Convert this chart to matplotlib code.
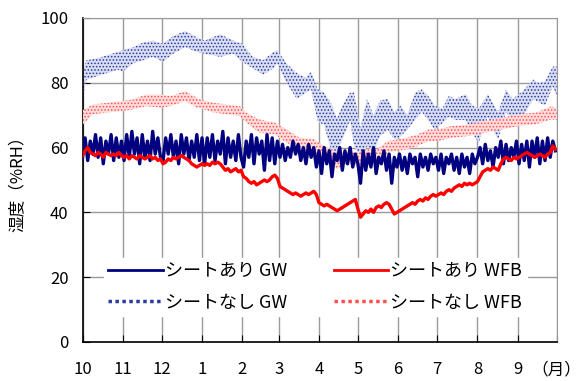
import matplotlib
matplotlib.use("Agg")
import matplotlib.pyplot as plt
from matplotlib.lines import Line2D
import numpy as np

plt.rcParams['font.family'] = ['Noto Sans CJK JP', 'DejaVu Sans']
plt.rcParams['hatch.linewidth'] = 0.7

# month boundaries (days from Oct 1)
month_days = [0, 31, 61, 92, 123, 151, 182, 212, 243, 273, 304, 335, 365]
month_labels = ['10', '11', '12', '1', '2', '3', '4', '5', '6', '7', '8', '9', '（月）']

# シートあり GW : values every 2 days (day 0 .. 364)
gw_on = [
    57, 63, 56, 62, 58, 64, 57, 63, 55, 62, 58, 64, 56, 63, 57, 62,        # Oct
    56, 64, 57, 65, 58, 63, 55, 64, 57, 62, 56, 65, 58, 63, 57,            # Nov
    56, 63, 58, 64, 57, 62, 55, 64, 58, 63, 56, 62, 57, 64, 56, 63,        # Dec
    55, 63, 57, 64, 56, 62, 58, 65, 55, 63, 57, 62, 56, 64, 57,            # Jan
    54, 62, 57, 64, 55, 63, 58, 62, 53, 64, 56, 63, 55, 62,                # Feb
    57, 61, 56, 60, 57, 62, 58, 61, 56, 60, 55, 61, 57, 60, 54,            # Mar
    59, 52, 60, 55, 59, 51, 58, 56, 60, 53, 59, 55, 60, 54, 58,            # Apr
    55, 49, 59, 53, 58, 54, 60, 52, 57, 55, 59, 53, 58, 49, 57, 54,        # May
    58, 53, 57, 52, 58, 55, 57, 51, 58, 54, 57, 53, 58, 55, 57,            # Jun
    53, 58, 52, 57, 55, 58, 53, 57, 52, 58, 54, 57, 52, 58, 55,            # Jul
    57, 60, 55, 61, 56, 59, 54, 60, 57, 62, 55, 61, 56, 60, 57, 62,        # Aug
    55, 61, 56, 62, 54, 62, 57, 63, 55, 62, 56, 63, 57, 62, 59,            # Sep
]

# シートあり WFB : values every 2 days
wfb_on = [
    57.5, 59, 60, 58.5, 58, 57.5, 58.5, 58, 57, 58.5, 58, 57.5, 58, 57.5, 58.5, 57.5,
    57, 57.5, 56.5, 57.5, 57, 56.5, 57.5, 57, 56.5, 57, 57.5, 56.5, 57, 56, 56.5,
    55, 55.5, 56.5, 56, 57, 56.5, 57, 57.5, 57, 56.5, 56, 55, 54.5, 54, 54.5, 55,
    54.5, 55, 54.5, 55.5, 55, 55.5, 55, 54, 53, 53.5, 52.5, 53, 53.5, 52.5, 53,
    51, 50.5, 49.5, 49, 49.5, 48.5, 49, 49.5, 50, 49.5, 50, 51, 51.5, 50.5,
    48, 47.5, 47, 46.5, 46, 45.5, 46, 45.5, 45, 45.5, 46, 45.5, 46, 46.5, 45.5,
    43, 42.5, 42, 42.5, 42, 41.5, 41, 40.5, 41, 41.5, 42, 42.5, 43, 43.5, 44,
    41, 38.5, 39.5, 40.5, 40, 41, 40, 41.5, 42, 41.5, 42.5, 43, 42.5, 41, 39.5, 40,
    40.5, 41, 41.5, 42, 42.5, 43, 42.5, 43.5, 44, 43.5, 44.5, 44, 45, 45.5, 45,
    45.5, 46, 45.5, 46.5, 47, 46.5, 47.5, 48, 48.5, 48, 49, 48.5, 49, 48.5, 49,
    49.5, 51, 52.5, 53, 53.5, 53, 54, 53.5, 53, 55, 56.5, 57, 56.5, 56, 57, 56.5,
    57, 57.5, 58, 58.5, 58, 57.5, 57, 57.5, 58, 57.5, 57, 58, 58.5, 60.5, 59.5,
]
days_on = np.arange(0, 365, 2)

# シートなし GW : daily range (lower / upper)
gw_off_days = [0, 3, 11, 19, 27, 31, 39, 47, 54, 62, 70, 79, 88, 94, 106, 116, 123, 131,
               139, 147, 150, 157, 165, 172, 176, 181, 186, 191, 196, 200, 206, 209, 214,
               219, 224, 229, 235, 240, 245, 250, 256, 261, 266, 271, 277, 282, 287, 295,
               300, 305, 312, 317, 320, 326, 331, 339, 347, 351, 356, 362, 365]
gw_off_hi = [83, 87, 87.5, 88.5, 89.5, 90, 91, 92.5, 93, 92, 94.5, 96, 94, 93, 95, 93, 92, 88,
             87, 89.5, 90, 86, 83, 81.5, 83.5, 78, 77, 74, 69, 73, 77, 77, 66,
             75, 70, 74.5, 75, 71, 73, 70, 77, 78, 76, 73, 72, 76, 75, 76.5,
             73, 72, 76.5, 73, 71, 78, 75, 77.5, 81, 80, 80.5, 85, 85]
gw_off_lo = [75, 81, 82, 83, 84, 83.5, 86, 87, 88, 86.5, 89, 91, 89.5, 89, 88, 89, 86.5, 84.5,
             82.5, 84.5, 86, 80, 75, 77, 78, 68, 67, 59.5, 58.5, 62.5, 68.5, 60.5, 56.5,
             60.5, 58.5, 63.5, 65.5, 62.5, 63.5, 65.5, 68.5, 71, 68.5, 65.5, 67.5, 69.5, 68.5, 68.5,
             64.5, 61.5, 69.5, 64.5, 62.5, 71, 68.5, 69.5, 75, 74, 73, 79, 76]

# シートなし WFB : daily range (lower / upper)
wfb_off_days = [0, 8, 19, 31, 39, 49, 60, 68, 79, 88, 90, 101, 111, 121, 126, 136, 148, 157,
                167, 178, 186, 196, 204, 211, 219, 227, 235, 243, 250, 258, 266, 273, 285,
                298, 310, 323, 336, 349, 361, 365]
wfb_off_hi = [71.5, 73.3, 73.8, 74.4, 74.9, 76.4, 76.4, 75.9, 77.4, 75.4, 74.9, 73.8, 73.3,
              72.8, 70.8, 68.7, 67.7, 65.6, 63.1, 62.6, 60.5, 58.5, 58.5, 58.5, 59.5, 59.5,
              62, 62.6, 63.1, 64.1, 65.6, 65.6, 66.7, 67.2, 68.2, 69.2, 70.3, 70.8, 72.8, 72]
wfb_off_lo = [67, 70.3, 70.8, 71.3, 71.8, 72.8, 72.3, 72.8, 74.4, 72.3, 72.3, 70.8, 70.3,
              69.7, 67.7, 64.6, 64.1, 61.5, 59.5, 58.5, 56.4, 53.3, 55.4, 54.4, 55.4, 54.4,
              58.5, 59, 59.5, 60.5, 62, 62, 63.1, 63.6, 64.6, 65.6, 66.7, 67.2, 68.7, 68.5]

navy = '#000080'
red = '#ff0000'
blue_dot = '#2a3a9e'
pink_dot = '#ff5050'

fig = plt.figure(figsize=(5.81, 3.81), dpi=100)
ax = fig.add_axes([0.142, 0.1024, 0.8162, 0.8504])

ax.fill_between(gw_off_days, gw_off_lo, gw_off_hi, facecolor='#d9ddf2',
                edgecolor=blue_dot, hatch='.....', linewidth=0, zorder=2)
ax.fill_between(wfb_off_days, wfb_off_lo, wfb_off_hi, facecolor='#ffdcdc',
                edgecolor=pink_dot, hatch='.....', linewidth=0, zorder=3)
ax.plot(days_on, gw_on, color=navy, lw=2.4, zorder=4)
ax.plot(days_on, wfb_on, color=red, lw=2.4, zorder=5)

ax.set_xlim(0, 365)
ax.set_ylim(0, 100)
ax.set_xticks(month_days)
ax.set_xticklabels(month_labels)
ax.set_yticks(range(0, 101, 20))
ax.grid(True, color='#9a9a9a', lw=1.0, zorder=0)
ax.set_axisbelow(True)
ax.tick_params(direction='in', length=5, labelsize=12, color='black')
ax.tick_params(axis='x', pad=14)
ax.tick_params(axis='y', pad=10)
for s in ['top', 'right']:
    ax.spines[s].set_color('#9a9a9a')
for s in ['left', 'bottom']:
    ax.spines[s].set_color('black')
    ax.spines[s].set_linewidth(1.2)

ax.set_ylabel('湿度（%RH）', fontsize=12, labelpad=10)

handles = [
    Line2D([], [], color=navy, lw=2),
    Line2D([], [], color=blue_dot, lw=2.5, linestyle=(0, (1, 1))),
    Line2D([], [], color=red, lw=2),
    Line2D([], [], color=pink_dot, lw=2.5, linestyle=(0, (1, 1))),
]
labels = ['シートあり GW', 'シートなし GW', 'シートあり WFB', 'シートなし WFB']
leg = ax.legend(handles, labels, ncol=2, loc='lower left',
                bbox_to_anchor=(0.026, 0.052, 0.93, 0.2), mode='expand',
                fontsize=13, handlelength=3.0, handletextpad=0.15,
                labelspacing=0.75, borderpad=0.25, frameon=True,
                fancybox=False, framealpha=1, facecolor='white', edgecolor='white')
leg.set_zorder(10)

fig.savefig('out.png', dpi=100)
